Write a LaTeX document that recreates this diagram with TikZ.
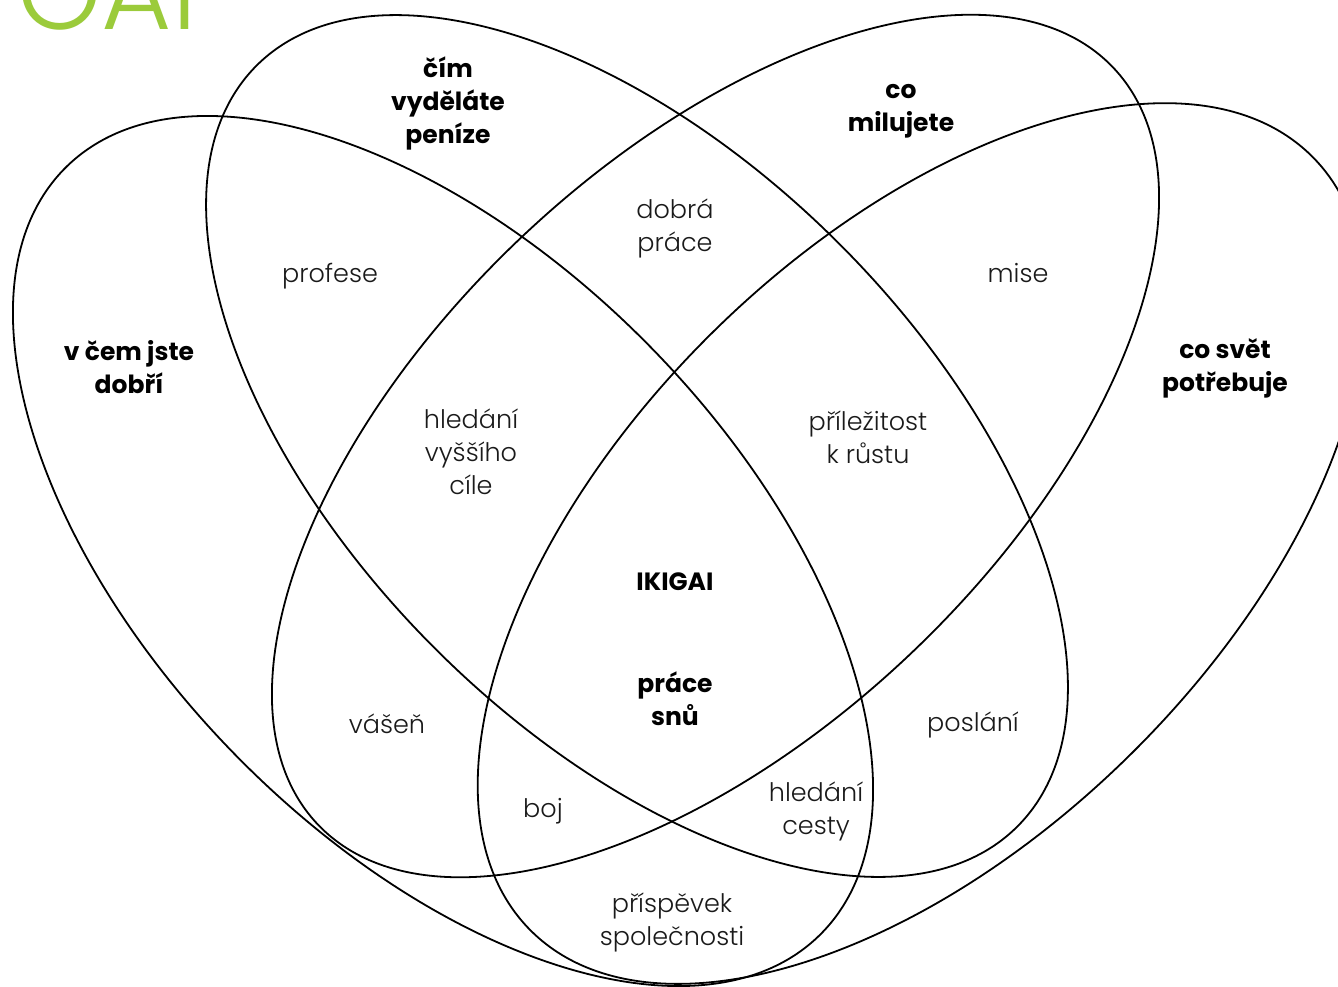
\documentclass[tikz,border=0pt]{standalone}
\usepackage{fontspec}
\setmainfont{Poppins}
\newfontfamily\lightfont{Poppins Light}
\definecolor{titlegreen}{HTML}{9BCB3B}
\definecolor{labelgray}{HTML}{1A1A1A}
\begin{document}
\begin{tikzpicture}[x=1pt,y=-1pt,
  ring/.style={draw=black,line width=1.8pt},
  lbl/.style={align=center,inner sep=0pt,text=labelgray,font=\lightfont\fontsize{25.5}{33}\selectfont},
  head/.style={align=center,inner sep=0pt,text=black,font=\fontsize{25}{33}\selectfont\bfseries}]
\clip (0,0) rectangle (1338,986);
\fill[white] (0,0) rectangle (1338,986);
% title
\node[anchor=base east,inner sep=0pt,text=titlegreen,font=\lightfont\fontsize{108}{108}\selectfont] (title) at (197,29) {IKI\kern40pt GAI};
% ellipses
\coordinate (cA) at (443,551);
\coordinate (cB) at (637,446);
\coordinate (cC) at (715.5,446);
\coordinate (cD) at (921.5,543.5);
\draw[ring,rotate around={-45.6:(cA)}] (cA) ellipse [x radius=538,y radius=291];
\draw[ring,rotate around={-45:(cB)}] (cB) ellipse [x radius=538,y radius=286];
\draw[ring,rotate around={43.6:(cC)}] (cC) ellipse [x radius=549,y radius=285];
\draw[ring,rotate around={44.6:(cD)}] (cD) ellipse [x radius=550,y radius=297];
% headings
\node[head] (money) at (448,103) {čím\\vyděláte\\peníze};
\node[head] (love) at (901,111) {co\\milujete};
\node[head] (good) at (129,367) {v čem jste\\dobří};
\node[head] (world) at (1225,368) {co svět\\potřebuje};
\node[head] (ikigai) at (675,582) {IKIGAI};
\node[head] (dream) at (675,699) {práce\\snů};
% labels
\node[lbl] (profese) at (330,276) {profese};
\node[lbl] (dobra) at (675,228) {dobrá\\práce};
\node[lbl] (mise) at (1018,273) {mise};
\node[lbl] (vyssi) at (471,452) {hledání\\vyššího\\cíle};
\node[lbl] (rust) at (868,437) {příležitost\\k růstu};
\node[lbl] (vasen) at (387,724) {vášeň};
\node[lbl] (poslani) at (973,725) {poslání};
\node[lbl] (boj) at (543,811) {boj};
\node[lbl] (cesty) at (816,811) {hledání\\cesty};
\node[lbl] (prispevek) at (672,922) {příspěvek\\společnosti};
\end{tikzpicture}
\end{document}
